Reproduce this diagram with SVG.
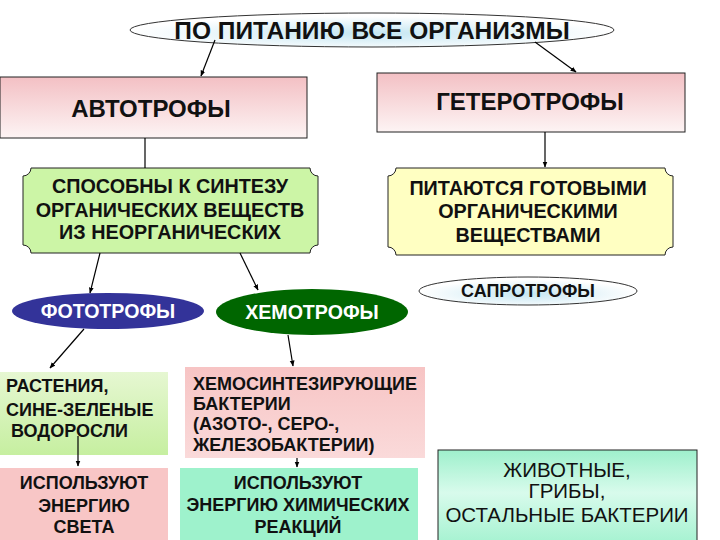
<svg xmlns="http://www.w3.org/2000/svg" width="720" height="540" viewBox="0 0 720 540">
<defs>
<radialGradient id="gOval" cx="0.5" cy="0.6" r="0.5">
<stop offset="0" stop-color="#c4e6f2"/>
<stop offset="1" stop-color="#ffffff"/>
</radialGradient>
<linearGradient id="gPink" x1="0" y1="0" x2="0" y2="1">
<stop offset="0" stop-color="#f3c0c4"/>
<stop offset="1" stop-color="#fdf4f4"/>
</linearGradient>
<linearGradient id="gGreen" x1="0" y1="0" x2="0" y2="1">
<stop offset="0" stop-color="#e6f7d2"/>
<stop offset="1" stop-color="#c6efa0"/>
</linearGradient>
<linearGradient id="gPink2" x1="0" y1="0" x2="0" y2="1">
<stop offset="0" stop-color="#f7c4c4"/>
<stop offset="1" stop-color="#fadada"/>
</linearGradient>
<linearGradient id="gMint" x1="0" y1="0" x2="0" y2="1">
<stop offset="0" stop-color="#9ef0cc"/>
<stop offset="0.45" stop-color="#d8fbec"/>
<stop offset="1" stop-color="#a4f2d0"/>
</linearGradient>
<marker id="arr" viewBox="0 0 10 10" refX="9" refY="5" markerWidth="6" markerHeight="6" orient="auto" markerUnits="userSpaceOnUse">
<path d="M0,1 L10,5 L0,9 Z" fill="#000"/>
</marker>
</defs>
<style>
text{font-family:"Liberation Sans",Arial,sans-serif;font-weight:bold;fill:#111;}
.c{text-anchor:middle;}
.w{fill:#fff;}
.n{font-weight:normal;}
.box{stroke:#222;stroke-width:1;}
.con line{stroke:#000;stroke-width:1.2;}
</style>
<rect width="720" height="540" fill="#fff"/>

<g id="title">
<ellipse cx="372" cy="30" rx="242" ry="17" fill="url(#gOval)" stroke="#333" stroke-width="1"/>
<text x="372" y="39" class="c" font-size="24.5">ПО ПИТАНИЮ ВСЕ ОРГАНИЗМЫ</text>
</g>

<g id="autotrophs">
<rect x="0" y="77" width="307" height="61" fill="url(#gPink)" class="box"/>
<text x="151" y="117" class="c" font-size="24">АВТОТРОФЫ</text>
</g>

<g id="heterotrophs">
<rect x="377" y="73" width="308" height="59" fill="url(#gPink)" class="box"/>
<text x="530" y="110" class="c" font-size="24">ГЕТЕРОТРОФЫ</text>
</g>

<g id="synthesis">
<path d="M31,168 L310,168 A8,8 0 0 0 318,176 L318,245 A8,8 0 0 0 310,253 L31,253 A8,8 0 0 0 23,245 L23,176 A8,8 0 0 0 31,168 Z" fill="#ccf5a6" class="box"/>
<text x="170" y="193" class="c" font-size="19.8">СПОСОБНЫ К СИНТЕЗУ</text>
<text x="170" y="217" class="c" font-size="19.8">ОРГАНИЧЕСКИХ ВЕЩЕСТВ</text>
<text x="170" y="239" class="c" font-size="19.8">ИЗ НЕОРГАНИЧЕСКИХ</text>
</g>

<g id="ready">
<path d="M396,168 L665,168 A8,8 0 0 0 673,176 L673,247 A8,8 0 0 0 665,255 L396,255 A8,8 0 0 0 388,247 L388,176 A8,8 0 0 0 396,168 Z" fill="#ffffc2" class="box"/>
<text x="528" y="195" class="c" font-size="19.8">ПИТАЮТСЯ ГОТОВЫМИ</text>
<text x="528" y="218" class="c" font-size="19.8">ОРГАНИЧЕСКИМИ</text>
<text x="528" y="242" class="c" font-size="19.8">ВЕЩЕСТВАМИ</text>
</g>

<g id="phototrophs">
<ellipse cx="108" cy="311" rx="96" ry="18" fill="#333399"/>
<text x="108" y="318" class="c w" font-size="19.6">ФОТОТРОФЫ</text>
</g>

<g id="chemotrophs">
<ellipse cx="312" cy="312" rx="96" ry="23" fill="#006600"/>
<text x="312" y="319" class="c w" font-size="19.6">ХЕМОТРОФЫ</text>
</g>

<g id="saprotrophs">
<ellipse cx="528" cy="291" rx="109" ry="14" fill="url(#gOval)" stroke="#333" stroke-width="1"/>
<text x="528" y="297" class="c" font-size="18">САПРОТРОФЫ</text>
</g>

<g id="plants">
<rect x="0" y="372" width="168" height="83" fill="url(#gGreen)"/>
<text x="6" y="392" font-size="18">РАСТЕНИЯ,</text>
<text x="6" y="416" font-size="18">СИНЕ-ЗЕЛЕНЫЕ</text>
<text x="11" y="437" font-size="18">ВОДОРОСЛИ</text>
</g>

<g id="light">
<rect x="0" y="468" width="168" height="72" fill="#f8c6c6"/>
<text x="84" y="489" class="c" font-size="18">ИСПОЛЬЗУЮТ</text>
<text x="84" y="512" class="c" font-size="18">ЭНЕРГИЮ</text>
<text x="84" y="533" class="c" font-size="18">СВЕТА</text>
</g>

<g id="chemobacteria">
<rect x="185" y="367" width="240" height="91" fill="url(#gPink2)"/>
<text x="193" y="390" font-size="18">ХЕМОСИНТЕЗИРУЮЩИЕ</text>
<text x="193" y="410" font-size="18">БАКТЕРИИ</text>
<text x="193" y="430" font-size="18">(АЗОТО-, СЕРО-,</text>
<text x="193" y="451" font-size="18">ЖЕЛЕЗОБАКТЕРИИ)</text>
</g>

<g id="chemical">
<rect x="180" y="468" width="238" height="72" fill="#9ef2cc"/>
<text x="298" y="489" class="c" font-size="18">ИСПОЛЬЗУЮТ</text>
<text x="298" y="511" class="c" font-size="18">ЭНЕРГИЮ ХИМИЧЕСКИХ</text>
<text x="298" y="533" class="c" font-size="18">РЕАКЦИЙ</text>
</g>

<g id="animals">
<rect x="438" y="450" width="259" height="95" fill="url(#gMint)" class="box"/>
<text x="567" y="477" class="c n" font-size="20.5">ЖИВОТНЫЕ,</text>
<text x="567" y="498" class="c n" font-size="20.5">ГРИБЫ,</text>
<text x="567" y="522" class="c n" font-size="20.5">ОСТАЛЬНЫЕ БАКТЕРИИ</text>
</g>

<g id="connectors" class="con">
<line x1="215" y1="40" x2="201" y2="76" marker-end="url(#arr)"/>
<line x1="535" y1="42" x2="576" y2="72" marker-end="url(#arr)"/>
<line x1="145" y1="138" x2="145" y2="168"/>
<line x1="545" y1="132" x2="545" y2="167" marker-end="url(#arr)"/>
<line x1="100" y1="253" x2="90" y2="293" marker-end="url(#arr)"/>
<line x1="240" y1="253" x2="258" y2="290" marker-end="url(#arr)"/>
<line x1="84" y1="329" x2="50" y2="368" marker-end="url(#arr)"/>
<line x1="288" y1="335" x2="293" y2="366" marker-end="url(#arr)"/>
<line x1="78" y1="436" x2="78" y2="466" marker-end="url(#arr)"/>
<line x1="297" y1="458" x2="297" y2="467" marker-end="url(#arr)"/>
</g>
</svg>
